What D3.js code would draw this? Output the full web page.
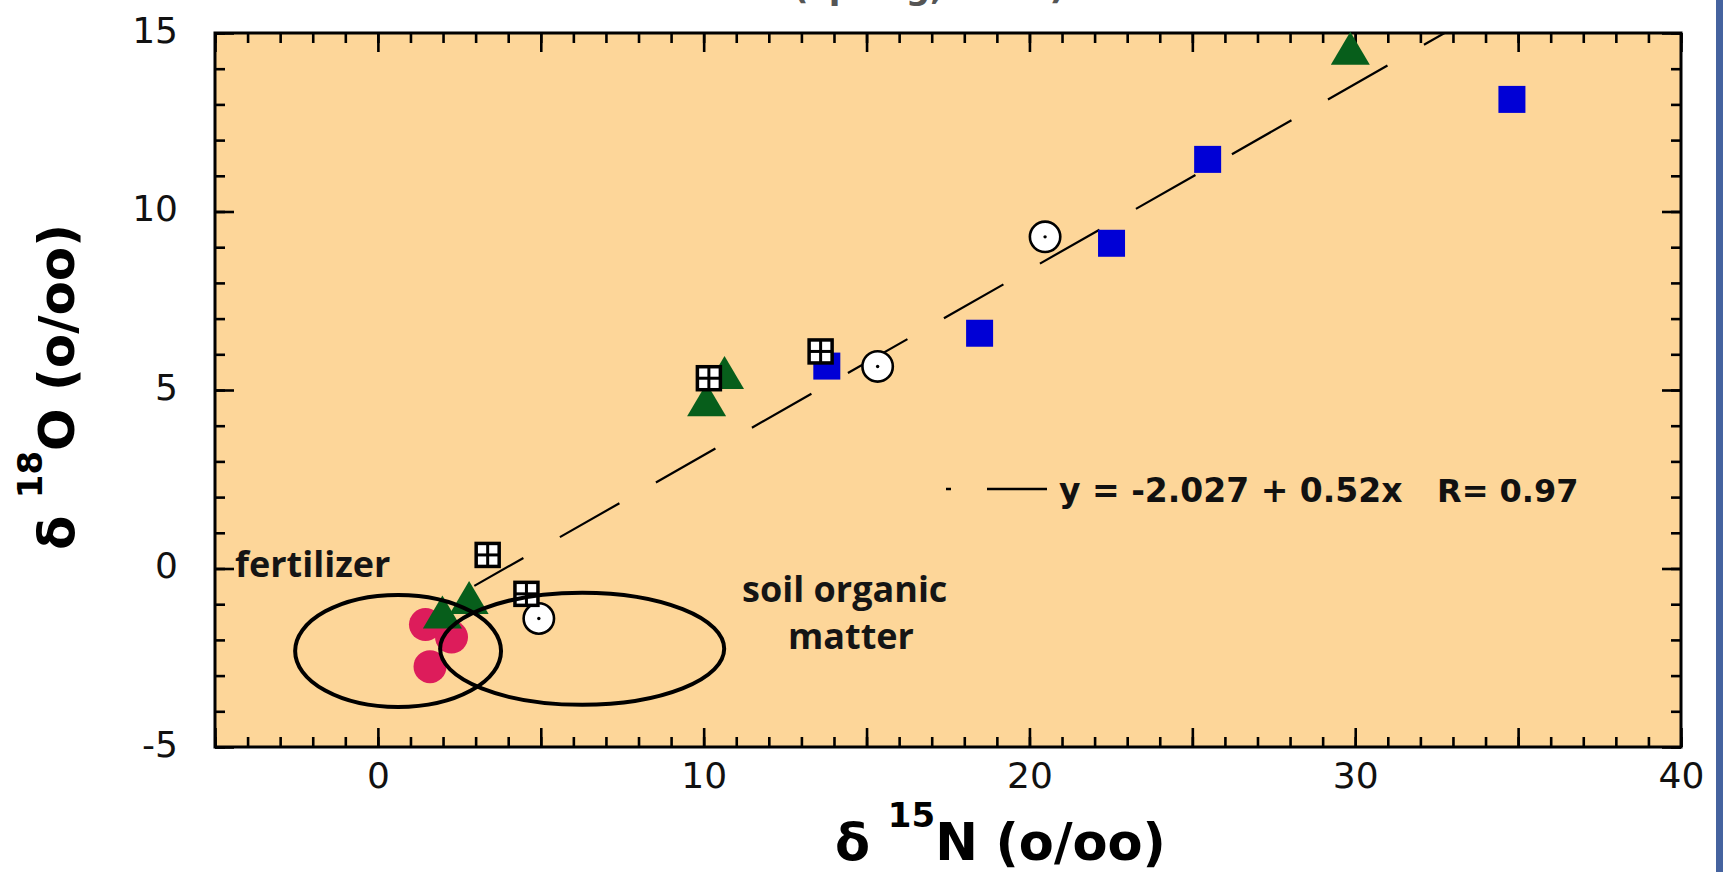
<!DOCTYPE html>
<html>
<head>
<meta charset="utf-8">
<script src="https://cdn.jsdelivr.net/npm/d3@7"></script>
<style>
  html, body { margin: 0; padding: 0; background: #fff; overflow: hidden; }
  svg { display: block; }
</style>
</head>
<body>
<svg id="chart" width="1723" height="872"></svg>
<script>
// Nitrate isotopes: δ15N (x, per mil) against δ18O (y, per mil)
const blueSquares   = [[34.81, 13.14], [25.47, 11.46], [22.52, 9.11], [18.47, 6.59], [13.78, 5.67]];
const greenTriangles = [[29.85, 14.57], [10.64, 5.49], [10.09, 4.73], [2.80, -0.81], [1.98, -1.22]];
const crossedSquares = [[10.16, 5.33], [13.59, 6.08], [3.37, 0.38], [4.56, -0.71]];
const dottedCircles  = [[20.48, 9.29], [15.34, 5.66], [4.94, -1.40]];
const redCircles     = [[1.46, -1.57], [2.26, -1.92], [1.60, -2.75]];

// Source fields (ellipses) in data units
const fieldNames = ["fertilizer", "soil organic matter"];
const fieldCx = [0.62, 6.27];
const fieldCy = [-2.31, -2.25];
const fieldRx = [3.16, 4.36];
const fieldRy = [1.57, 1.57];

// Linear fit through all samples
const fitIntercept = -2.027;
const fitSlope = 0.52;
const fitR = 0.97;
const fitRange = [2.96, 34];

const xDomain = [-5, 40];
const yDomain = [-5, 15];
const xTickLabels = [0, 10, 20, 30, 40];
const yTickLabels = [-5, 0, 5, 10, 15];

const svg = d3.select("#chart");
const W = 1723, H = 872;
const plot = { left: 215, right: 1681, top: 33, bottom: 747 };

const x = d3.scaleLinear().domain(xDomain).range([plot.left, plot.right]);
const y = d3.scaleLinear().domain(yDomain).range([plot.bottom, plot.top]);

// slide edge
svg.append("rect").attr("x", 1716).attr("y", 0).attr("width", 7).attr("height", H).attr("fill", "#45639f");

// heading, mostly above the visible area
svg.append("text")
  .attr("x", 793).attr("y", -1.5)
  .attr("font-family", "DejaVu Sans").attr("font-weight", "bold").attr("font-size", 34)
  .attr("fill", "#555")
  .text("(spring, 1996)");

// plot background
svg.append("rect")
  .attr("x", plot.left).attr("y", plot.top)
  .attr("width", plot.right - plot.left).attr("height", plot.bottom - plot.top)
  .attr("fill", "#FDD699");

svg.append("clipPath").attr("id", "plotClip")
  .append("rect")
  .attr("x", plot.left).attr("y", plot.top)
  .attr("width", plot.right - plot.left).attr("height", plot.bottom - plot.top);

// ticks on all four sides, pointing inward
const minorX = d3.range(xDomain[0], xDomain[1] + 1, 1);
const majorX = d3.range(xDomain[0], xDomain[1] + 1, 5);
const minorY = d3.range(yDomain[0], yDomain[1] + 1, 1);
const majorY = d3.range(yDomain[0], yDomain[1] + 1, 5);

function tickAxis(axisFn, scale, values, size, transform) {
  const g = svg.append("g").attr("transform", transform)
    .call(axisFn(scale).tickValues(values).tickSize(-size).tickFormat(""));
  g.select(".domain").remove();
  g.selectAll(".tick line").attr("stroke", "#000").attr("stroke-width", 2.6);
  return g;
}
tickAxis(d3.axisBottom, x, minorX, 10, `translate(0,${plot.bottom})`);
tickAxis(d3.axisBottom, x, majorX, 19, `translate(0,${plot.bottom})`);
tickAxis(d3.axisTop, x, minorX, 10, `translate(0,${plot.top})`);
tickAxis(d3.axisTop, x, majorX, 19, `translate(0,${plot.top})`);
tickAxis(d3.axisLeft, y, minorY, 10, `translate(${plot.left},0)`);
tickAxis(d3.axisLeft, y, majorY, 19, `translate(${plot.left},0)`);
tickAxis(d3.axisRight, y, minorY, 10, `translate(${plot.right},0)`);
tickAxis(d3.axisRight, y, majorY, 19, `translate(${plot.right},0)`);

// frame
svg.append("rect")
  .attr("x", plot.left).attr("y", plot.top)
  .attr("width", plot.right - plot.left).attr("height", plot.bottom - plot.top)
  .attr("fill", "none").attr("stroke", "#000").attr("stroke-width", 3);

// tick labels (plain hyphen for negatives)
const plainNum = d => String(d);
const xLab = svg.append("g").attr("transform", `translate(0,${plot.bottom})`)
  .call(d3.axisBottom(x).tickValues(xTickLabels).tickSize(0).tickPadding(15).tickFormat(plainNum));
xLab.select(".domain").remove();
xLab.selectAll("text")
  .attr("font-family", "DejaVu Sans").attr("font-size", 36).attr("fill", "#111");

const yLab = svg.append("g").attr("transform", `translate(${plot.left},0)`)
  .call(d3.axisLeft(y).tickValues(yTickLabels).tickSize(0).tickPadding(37).tickFormat(plainNum));
yLab.select(".domain").remove();
yLab.selectAll("text")
  .attr("dy", "0.26em")
  .attr("font-family", "DejaVu Sans").attr("font-size", 36).attr("fill", "#111");

// regression line (dashed), behind the markers
const fitLine = d3.line().x(d => x(d)).y(d => y(fitIntercept + fitSlope * d));
svg.append("path")
  .attr("clip-path", "url(#plotClip)")
  .attr("d", fitLine(fitRange))
  .attr("fill", "none").attr("stroke", "#000").attr("stroke-width", 2.2)
  .attr("stroke-dasharray", "68.5 42").attr("stroke-dashoffset", 12);

// markers
const marks = svg.append("g");

marks.selectAll(".red").data(redCircles).join("circle")
  .attr("cx", d => x(d[0])).attr("cy", d => y(d[1])).attr("r", 16.5)
  .attr("fill", "#DD1C5B");

marks.selectAll(".blue").data(blueSquares).join("rect")
  .attr("x", d => x(d[0]) - 13.5).attr("y", d => y(d[1]) - 13.5)
  .attr("width", 27).attr("height", 27).attr("fill", "#0000D6");

marks.selectAll(".tri").data(greenTriangles).join("path")
  .attr("d", d => {
    const cx = x(d[0]), cy = y(d[1]);
    return `M${cx},${cy - 16.5}L${cx + 19.5},${cy + 16.5}L${cx - 19.5},${cy + 16.5}Z`;
  })
  .attr("fill", "#075E1B");

const dots = marks.selectAll(".dotc").data(dottedCircles).join("g")
  .attr("transform", d => `translate(${x(d[0])},${y(d[1])})`);
dots.append("circle").attr("r", 15.2).attr("fill", "#fff").attr("stroke", "#000").attr("stroke-width", 2.6);
dots.append("circle").attr("r", 1.7).attr("fill", "#000");

const crossed = marks.selectAll(".xsq").data(crossedSquares).join("g")
  .attr("transform", d => `translate(${x(d[0])},${y(d[1])})`);
crossed.append("rect").attr("x", -11.5).attr("y", -11.5).attr("width", 23).attr("height", 23)
  .attr("fill", "#fff").attr("stroke", "#000").attr("stroke-width", 3.5);
crossed.append("line").attr("x1", -11.5).attr("x2", 11.5).attr("y1", 0).attr("y2", 0)
  .attr("stroke", "#000").attr("stroke-width", 3);
crossed.append("line").attr("x1", 0).attr("x2", 0).attr("y1", -11.5).attr("y2", 11.5)
  .attr("stroke", "#000").attr("stroke-width", 3);

// source field ellipses
svg.append("g").selectAll("ellipse").data(fieldNames).join("ellipse")
  .attr("cx", (d, i) => x(fieldCx[i]))
  .attr("cy", (d, i) => y(fieldCy[i]))
  .attr("rx", (d, i) => x(fieldCx[i] + fieldRx[i]) - x(fieldCx[i]))
  .attr("ry", (d, i) => y(fieldCy[i]) - y(fieldCy[i] + fieldRy[i]))
  .attr("fill", "none").attr("stroke", "#000").attr("stroke-width", 4);

// field labels
const labelFont = { family: "Open Sans", weight: 700, size: 36 };
function label(txt, lx, ly) {
  svg.append("text").attr("x", lx).attr("y", ly)
    .attr("font-family", labelFont.family).attr("font-weight", labelFont.weight)
    .attr("font-size", labelFont.size).attr("fill", "#151515").text(txt);
}
label("fertilizer", 235, 577);
label("soil organic", 742, 602);
label("matter", 788, 649);

// fit legend
svg.append("line")
  .attr("x1", 946).attr("x2", 1047).attr("y1", 489).attr("y2", 489)
  .attr("stroke", "#000").attr("stroke-width", 2.6)
  .attr("stroke-dasharray", "60 36").attr("stroke-dashoffset", 55);
const legendText = svg.append("g")
  .attr("font-family", "DejaVu Sans").attr("font-weight", "bold").attr("font-size", 33).attr("fill", "#111");
legendText.append("text").attr("x", 1059).attr("y", 502)
  .text(`y = ${fitIntercept} + ${fitSlope}x`);
legendText.append("text").attr("x", 1437).attr("y", 502)
  .attr("font-size", 32)
  .text(`R= ${fitR}`);

// axis titles
const xTitle = svg.append("text")
  .attr("x", 835).attr("y", 860)
  .attr("font-family", "DejaVu Sans").attr("font-weight", "bold").attr("font-size", 51).attr("fill", "#000");
xTitle.append("tspan").text("δ ");
xTitle.append("tspan").attr("font-size", 34).attr("dy", -33).text("15");
xTitle.append("tspan").attr("dy", 33).text("N (o/oo)");

const yTitle = svg.append("text")
  .attr("transform", "translate(74,550) rotate(-90)")
  .attr("font-family", "DejaVu Sans").attr("font-weight", "bold").attr("font-size", 50).attr("fill", "#000");
yTitle.append("tspan").text("δ ");
yTitle.append("tspan").attr("font-size", 34).attr("dy", -32).text("18");
yTitle.append("tspan").attr("dy", 32).text("O (o/oo)");
</script>
</body>
</html>
